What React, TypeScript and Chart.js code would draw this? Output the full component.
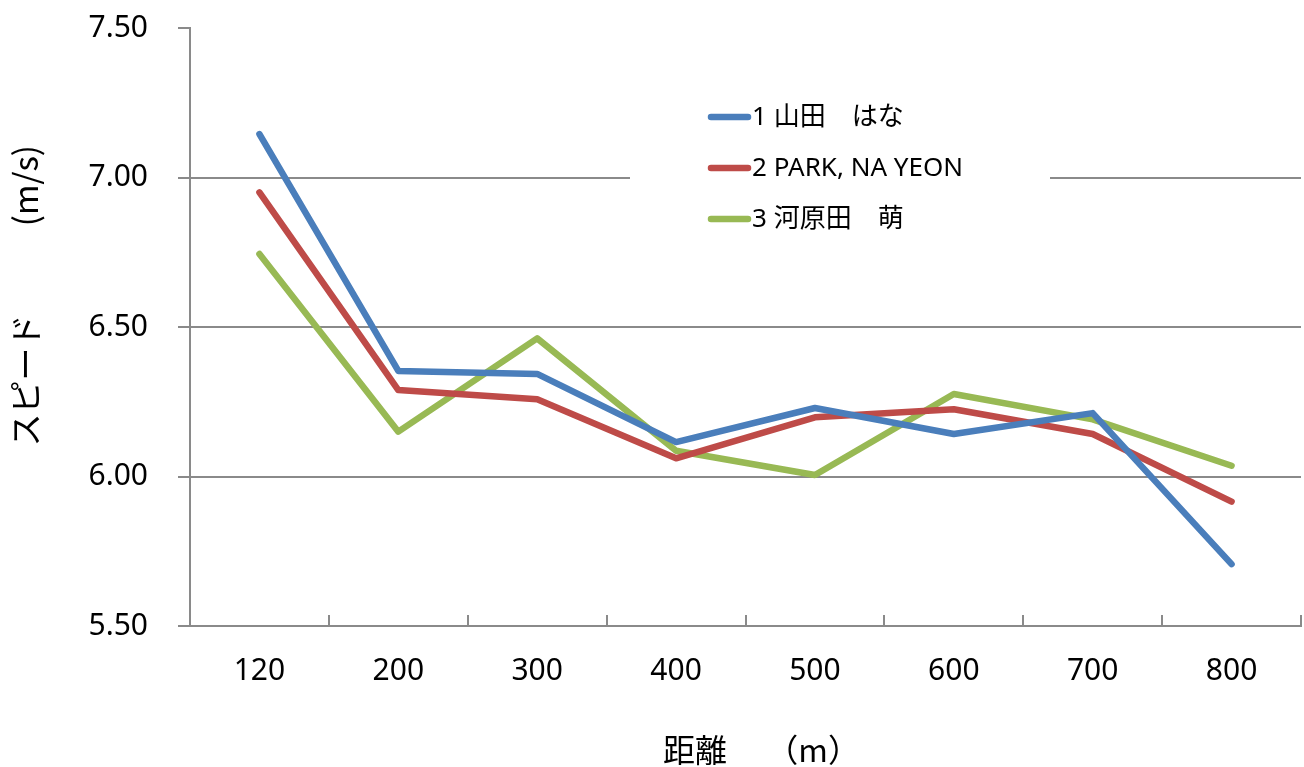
import React, { useEffect, useRef } from 'react';
import { Chart, registerables } from 'chart.js';

Chart.register(...registerables);

const categories = ['120', '200', '300', '400', '500', '600', '700', '800'];
const yamada = [7.145, 6.353, 6.343, 6.115, 6.229, 6.142, 6.212, 5.707];
const park = [6.95, 6.289, 6.258, 6.061, 6.198, 6.225, 6.142, 5.916];
const kawaharada = [6.744, 6.15, 6.462, 6.086, 6.005, 6.276, 6.191, 6.036];
const seriesNames = ['1 山田　はな', '2 PARK, NA YEON', '3 河原田　萌'];
const seriesColors = ['#4A7EBB', '#BE4B48', '#98B954'];
const yMin = 5.5;
const yMax = 7.5;
const yStep = 0.5;
const xTitle = '　距離　 （m）';
const yTitle = '　    スピード　　   (m/s)';

const GRID = '#8a8a8a';
const LATIN = '"Noto Sans", "Noto Sans CJK JP", sans-serif';
const CJK = '"Noto Sans CJK JP", "Noto Sans", sans-serif';

const insideTicks = {
  id: 'insideTicks',
  beforeDatasetsDraw(chart: any) {
    const xs = chart.scales.x;
    const ctx = chart.ctx;
    const n = chart.data.labels.length;
    const w = xs.getPixelForValue(1) - xs.getPixelForValue(0);
    const x0 = xs.getPixelForValue(0) - w / 2;
    const b = chart.chartArea.bottom;
    ctx.save();
    ctx.strokeStyle = GRID;
    ctx.lineWidth = 2;
    for (let i = 0; i <= n; i++) {
      const x = Math.round(x0 + i * w);
      ctx.beginPath();
      ctx.moveTo(x, b);
      ctx.lineTo(x, b - 11);
      ctx.stroke();
    }
    ctx.restore();
  },
};

const boxLegend = {
  id: 'boxLegend',
  beforeDatasetsDraw(chart: any) {
    const ctx = chart.ctx;
    ctx.save();
    ctx.fillStyle = '#ffffff';
    ctx.fillRect(630, 86, 420, 162);
    chart.data.datasets.forEach((ds: any, i: number) => {
      const y = 117 + i * 51;
      ctx.strokeStyle = ds.borderColor;
      ctx.lineWidth = 6.5;
      ctx.lineCap = 'round';
      ctx.beginPath();
      ctx.moveTo(711, y);
      ctx.lineTo(748, y);
      ctx.stroke();
      ctx.fillStyle = '#000000';
      ctx.font = `26px ${LATIN}`;
      ctx.textBaseline = 'middle';
      ctx.textAlign = 'left';
      ctx.fillText(ds.label, 752, y + 1);
    });
    ctx.restore();
  },
};

export default function App() {
  const ref = useRef<HTMLCanvasElement>(null);
  useEffect(() => {
    document.body.style.margin = '0';
    const chart = new Chart(ref.current!, {
      type: 'line',
      data: {
        labels: categories,
        datasets: [yamada, park, kawaharada].map((d, i) => ({
          label: seriesNames[i],
          data: d,
          borderColor: seriesColors[i],
          backgroundColor: seriesColors[i],
          borderWidth: 6.5,
          pointRadius: 0,
          borderCapStyle: 'round' as const,
          borderJoinStyle: 'round' as const,
          tension: 0,
        })),
      },
      options: {
        animation: false,
        responsive: false,
        maintainAspectRatio: false,
        layout: { padding: { top: 28, right: 3, left: 0, bottom: 0 } },
        plugins: { legend: { display: false }, tooltip: { enabled: false } },
        scales: {
          x: {
            offset: true,
            grid: { display: true, drawOnChartArea: false, drawTicks: false, offset: true, color: GRID },
            border: { display: true, color: GRID, width: 2 },
            ticks: { color: '#000', padding: 27, font: { family: LATIN, size: 30 }, maxRotation: 0 },
            title: { display: true, text: xTitle, color: '#000', font: { family: CJK, size: 32 }, padding: { top: 0, bottom: -2 } },
            afterFit: (s: any) => {
              s.height = 141;
              s.paddingLeft = 0;
              s.paddingRight = 0;
            },
          },
          y: {
            min: yMin,
            max: yMax,
            ticks: {
              stepSize: yStep,
              color: '#000',
              padding: 30,
              font: { family: LATIN, size: 30 },
              callback: (v: any) => Number(v).toFixed(2),
            },
            grid: {
              color: (c: any) => (c.tick && Math.abs(c.tick.value - yMax) < 1e-6 ? 'rgba(0,0,0,0)' : GRID),
              tickColor: GRID,
              tickLength: 12,
              lineWidth: 2,
            },
            border: { display: true, color: GRID, width: 2 },
            title: { display: true, text: yTitle, color: '#000', font: { family: CJK, size: 33 }, padding: { top: 6, bottom: 0 } },
            afterFit: (s: any) => {
              s.width = 190;
              s.paddingTop = 0;
              s.paddingBottom = 0;
            },
          },
        },
      },
      plugins: [boxLegend, insideTicks],
    });
    return () => chart.destroy();
  }, []);
  return (
    <div style={{ width: 1304, height: 767, background: '#fff' }}>
      <canvas ref={ref} width={1304} height={767} style={{ display: 'block' }} />
    </div>
  );
}
